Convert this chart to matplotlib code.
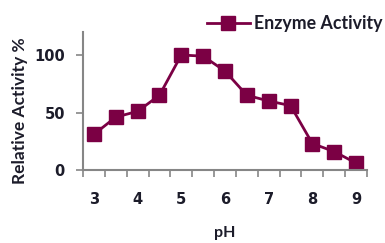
import numpy as np
import matplotlib.pyplot as plt

# data
ph = ['3', '3.5', '4', '4.5', '5', '5.5', '6', '6.5', '7', '7.5', '8', '8.5', '9']
activity = [31, 46, 51, 65, 100, 99, 86, 65, 60, 56, 23, 16, 6]
tick_labels = ['3', '4', '5', '6', '7', '8', '9']

color = '#7b0044'
axis_grey = '#868686'
text_col = '#1c1c2a'

fig = plt.figure(figsize=(3.85, 2.43), dpi=100)
ax = fig.add_axes([83/385, 1 - 170/243, (367 - 83)/385, (170 - 32)/243])

x = np.arange(len(ph))
ax.plot(x, activity, color=color, lw=2, marker='s', ms=10, mec=color, mfc=color,
        label='Enzyme Activity')

ax.set_xlim(-0.5, len(ph) - 0.5)
ax.set_ylim(0, 120)

# Excel style category axis: ticks between categories, labels every other one
ax.set_xticks(np.arange(-0.5, len(ph)))
ax.set_xticklabels([])
ax.set_xticks(x[::2], minor=True)
ax.set_xticklabels(tick_labels, minor=True)
ax.tick_params(axis='x', which='major', length=5, width=1.2, color=axis_grey, direction='out')
ax.tick_params(axis='x', which='minor', length=0, pad=16, labelsize=10.5)

ax.set_yticks([0, 50, 100])
ax.tick_params(axis='y', length=5, width=1.2, color=axis_grey, labelsize=10.5, pad=8)

for lab in ax.get_xticklabels(minor=True) + ax.get_yticklabels():
  lab.set_family('DejaVu Sans')
  lab.set_color(text_col)
  lab.set_fontweight('semibold')

ax.spines[['right', 'top']].set_visible(False)
for s in ['left', 'bottom']:
  ax.spines[s].set_color(axis_grey)
  ax.spines[s].set_linewidth(1.5)

ax.set_xlabel('pH', fontsize=11.5, fontweight='bold', family='Lato', color=text_col, va='top')
ax.xaxis.set_label_coords(0.5, (170 - 226) / 138)
ax.set_ylabel('Relative Activity %', fontsize=12.5, fontweight='bold', family='Lato',
              color=text_col, va='center')
ax.yaxis.set_label_coords((20 - 83) / 284, (170 - 111) / 138)

leg = fig.legend(loc='center left', bbox_to_anchor=(207/385, 1 - 24/243), frameon=False,
                 borderpad=0, borderaxespad=0, handlelength=2.4, handletextpad=0.25,
                 prop={'family': 'Lato', 'weight': 'bold', 'size': 12.8})
for t in leg.get_texts():
  t.set_color(text_col)

fig.savefig('out.png', dpi=100)
